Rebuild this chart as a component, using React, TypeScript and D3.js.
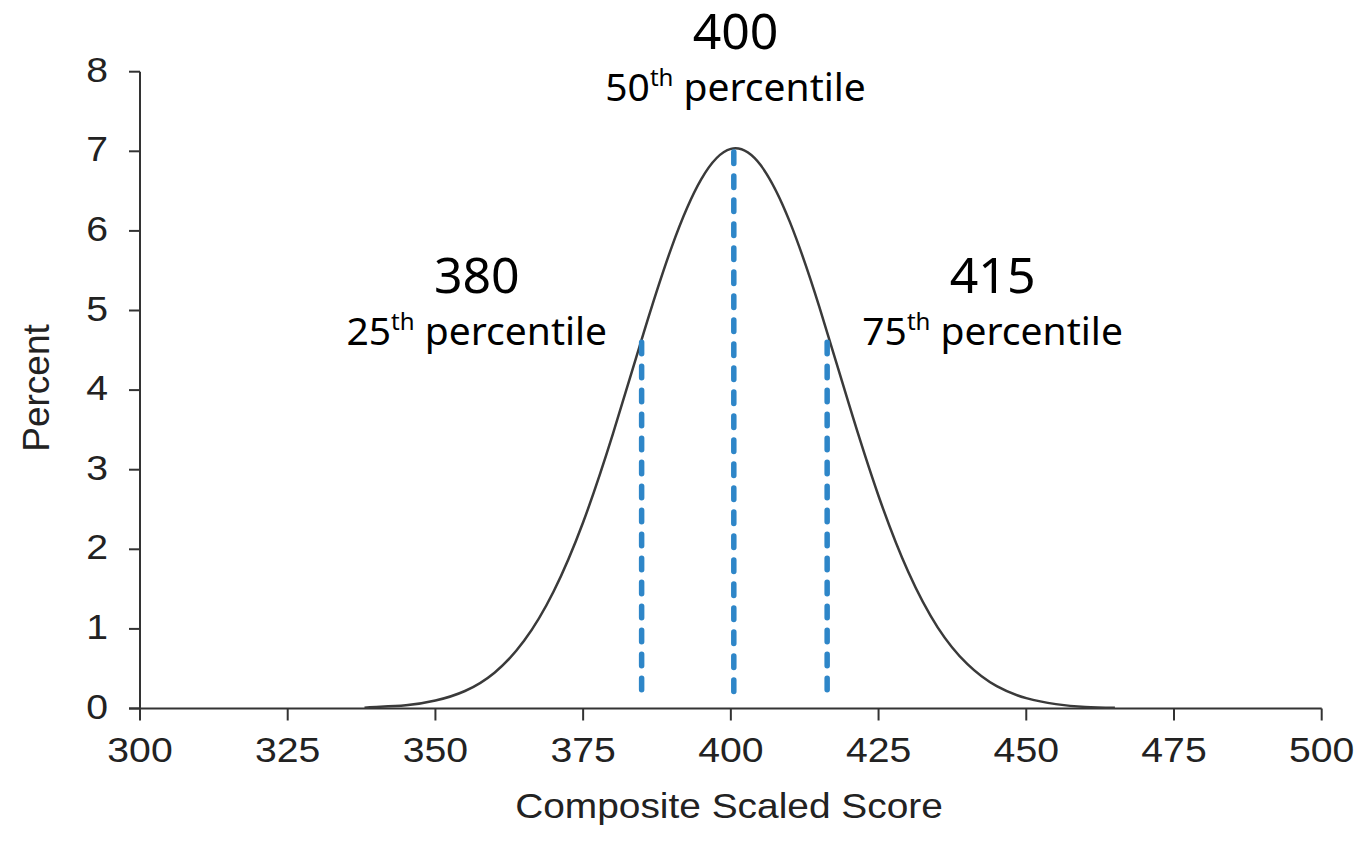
import React from "react";
import * as d3 from "d3";

const scores = [338, 340, 345, 350, 355, 360, 365, 370, 375, 380, 385, 390, 395, 400, 405, 410, 415, 420, 425, 430, 435, 440, 445, 450, 455, 460, 465];
const percents = [0.01, 0.02, 0.04, 0.1, 0.22, 0.45, 0.85, 1.47, 2.34, 3.44, 4.66, 5.8, 6.65, 7.03, 6.83, 6.11, 5.04, 3.82, 2.67, 1.72, 1.02, 0.56, 0.28, 0.13, 0.055, 0.02, 0.008];

const xTicks = [300, 325, 350, 375, 400, 425, 450, 475, 500];
const yTicks = [0, 1, 2, 3, 4, 5, 6, 7, 8];

// percentile markers: position on score axis, top and bottom of the dashed line
const markerScores = [384.9, 400.5, 416.3];
const markerTops = [4.64, 7.03, 4.64];
const markerBottoms = [0.15, 0.09, 0.15];

// annotations
const annValues = ["380", "400", "415"];
const annPct = ["25", "50", "75"];
const annScores = [357, 400.8, 444.3];
const annLevels = [4.57, 7.63, 4.57];

const W = 1368;
const H = 852;

export default function App() {
  const x = d3.scaleLinear().domain([300, 500]).range([140, 1321.7]);
  const y = d3.scaleLinear().domain([0, 8]).range([708.5, 71.7]);

  const pts: [number, number][] = scores.map((s, i) => [s, percents[i]]);
  const line = d3
    .line<[number, number]>()
    .x((d) => x(d[0]))
    .y((d) => y(d[1]))
    .curve(d3.curveNatural);

  const axisColor = "#333";
  const tickFont = "'Liberation Sans', Arial, sans-serif";
  const annFont = "'Noto Sans', 'Open Sans', sans-serif";

  return (
    <svg width={W} height={H} style={{ position: "absolute", left: 0, top: 0, background: "#fff" }}>
      {/* axes */}
      <line x1={x(300)} x2={x(300)} y1={y(8)} y2={y(0)} stroke={axisColor} strokeWidth={2} />
      <line x1={x(300) - 11} x2={x(500)} y1={y(0)} y2={y(0)} stroke={axisColor} strokeWidth={2} />
      {yTicks.map((t) => (
        <g key={"y" + t}>
          <line x1={x(300) - 11} x2={x(300)} y1={y(t)} y2={y(t)} stroke={axisColor} strokeWidth={2} />
          <text
            transform={`translate(${x(300) - 32},${y(t) + 10}) scale(1.12,1)`}
            textAnchor="end"
            fontFamily={tickFont}
            fontSize={35}
            fill="#222"
          >
            {t}
          </text>
        </g>
      ))}
      {xTicks.map((t) => (
        <g key={"x" + t}>
          <line x1={x(t)} x2={x(t)} y1={y(0)} y2={y(0) + 12} stroke={axisColor} strokeWidth={2} />
          <text
            transform={`translate(${x(t)},762) scale(1.12,1)`}
            textAnchor="middle"
            fontFamily={tickFont}
            fontSize={35}
            fill="#222"
          >
            {t}
          </text>
        </g>
      ))}
      <text
        transform="translate(729,818) scale(1.08,1)"
        textAnchor="middle"
        fontFamily={tickFont}
        fontSize={36}
        fill="#222"
      >
        Composite Scaled Score
      </text>
      <text
        transform={`translate(49,388) rotate(-90)`}
        textAnchor="middle"
        fontFamily={tickFont}
        fontSize={37}
        fill="#222"
      >
        Percent
      </text>

      {/* curve */}
      <path d={line(pts) || ""} fill="none" stroke="#3a3a3a" strokeWidth={2.5} />

      {/* percentile dashed lines */}
      {markerScores.map((s, i) => (
        <line
          key={"m" + i}
          x1={x(s)}
          x2={x(s)}
          y1={y(markerTops[i]) + 3}
          y2={y(markerBottoms[i])}
          stroke="#2E86C8"
          strokeWidth={5.5}
          strokeLinecap="round"
          strokeDasharray="11.5 12.5"
        />
      ))}

      {/* annotations */}
      {annValues.map((v, i) => (
        <g key={"a" + i}>
          <text x={x(annScores[i])} y={y(annLevels[i]) - 52} textAnchor="middle" fontFamily={annFont} fontSize={50} fill="#000">
            {v}
          </text>
          <text x={x(annScores[i])} y={y(annLevels[i])} textAnchor="middle" fontFamily={annFont} fontSize={39} fill="#000">
            {annPct[i]}
            <tspan fontSize={24} dy={-15}>
              th
            </tspan>
            <tspan dy={15}> percentile</tspan>
          </text>
        </g>
      ))}
    </svg>
  );
}
